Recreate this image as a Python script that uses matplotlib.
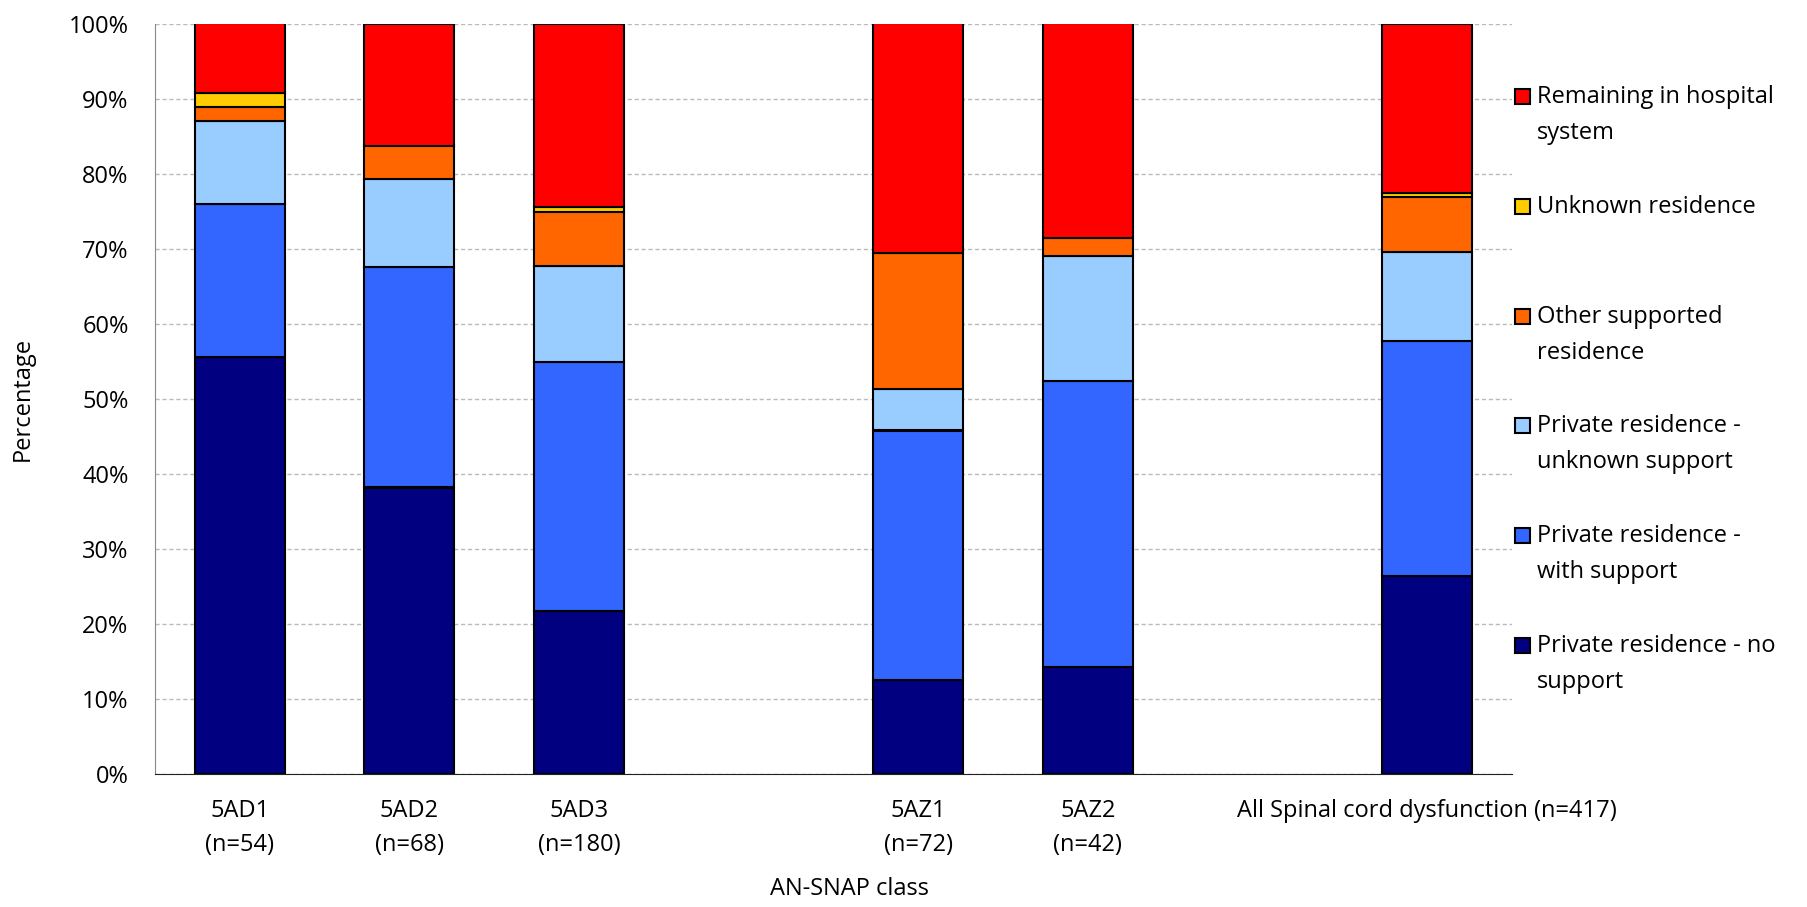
import numpy as np
import matplotlib
matplotlib.use("Agg")
import matplotlib.pyplot as plt
from matplotlib.patches import Rectangle

plt.rcParams['font.family'] = ['Open Sans', 'DejaVu Sans']

# data: percentage of patients in each discharge destination
classes = ["5AD1\n(n=54)", "5AD2\n(n=68)", "5AD3\n(n=180)", "",
           "5AZ1\n(n=72)", "5AZ2\n(n=42)", "", "All Spinal cord dysfunction (n=417)"]
no_support = [55.6, 38.2, 21.7, 0, 12.5, 14.3, 0, 26.4]
with_support = [20.4, 29.4, 33.3, 0, 33.3, 38.1, 0, 31.4]
unknown_support = [11.1, 11.8, 12.8, 0, 5.6, 16.7, 0, 11.8]
other_supported = [1.85, 4.4, 7.2, 0, 18.1, 2.4, 0, 7.4]
unknown_residence = [1.85, 0, 0.6, 0, 0, 0, 0, 0.5]
hospital = [9.3, 16.2, 24.4, 0, 30.6, 28.6, 0, 22.5]

series = [no_support, with_support, unknown_support, other_supported, unknown_residence, hospital]
labels = ["Private residence - no\nsupport", "Private residence -\nwith support",
          "Private residence -\nunknown support", "Other supported\nresidence",
          "Unknown residence", "Remaining in hospital\nsystem"]
colors = ["#000080", "#3366FF", "#99CCFF", "#FF6600", "#FFCC00", "#FF0000"]

W, H = 1807, 907
FS = 17
fig = plt.figure(figsize=(W / 100, H / 100), dpi=100)
ax = fig.add_axes([155 / W, 1 - 774 / H, (1512 - 155) / W, (774 - 24) / H])

x = np.arange(len(classes))
bottom = np.zeros(len(classes))
for vals, col in zip(series, colors):
    vals = np.array(vals, dtype=float)
    mask = vals > 0
    ax.bar(x[mask], vals[mask], 0.53, bottom=bottom[mask], color=col,
           edgecolor="black", linewidth=1.5, zorder=3)
    bottom += vals

ax.set_xlim(-0.5, len(classes) - 0.5)
ax.set_ylim(0, 100)
ax.set_yticks(np.arange(0, 101, 10))
ax.set_yticklabels([f"{v}%" for v in range(0, 101, 10)], fontsize=FS)
ax.set_xticks(x)
ax.set_xticklabels(classes, fontsize=FS, linespacing=1.55)
ax.tick_params(axis="y", length=0, pad=19)
ax.tick_params(axis="x", length=0, pad=18)
ax.yaxis.grid(True, linestyle=(0, (3, 2)), color="#BBBBBB", linewidth=1, zorder=0)
ax.set_axisbelow(True)
for s in ["top", "right"]:
    ax.spines[s].set_visible(False)
ax.spines["left"].set_color("#888888")
ax.spines["bottom"].set_color("#222222")

fig.text(23 / W, 1 - 399 / H, "Percentage", rotation=90, fontsize=FS,
         ha="center", va="center")
fig.text(850 / W, 1 - 889 / H, "AN-SNAP class", fontsize=FS,
         ha="center", va="center")

# legend, top entry is the top of the stack
first_line = [96, 206, 316, 425, 535, 645]
for yc, lab, col in zip(first_line, labels[::-1], colors[::-1]):
    fig.add_artist(Rectangle((1515 / W, 1 - (yc + 8) / H), 15 / W, 15 / H,
                             transform=fig.transFigure, facecolor=col,
                             edgecolor="black", linewidth=1.5))
    fig.text(1537 / W, 1 - (yc - 11) / H, lab, fontsize=FS, ha="left", va="top",
             linespacing=1.65)

fig.savefig("out.png", dpi=100)
